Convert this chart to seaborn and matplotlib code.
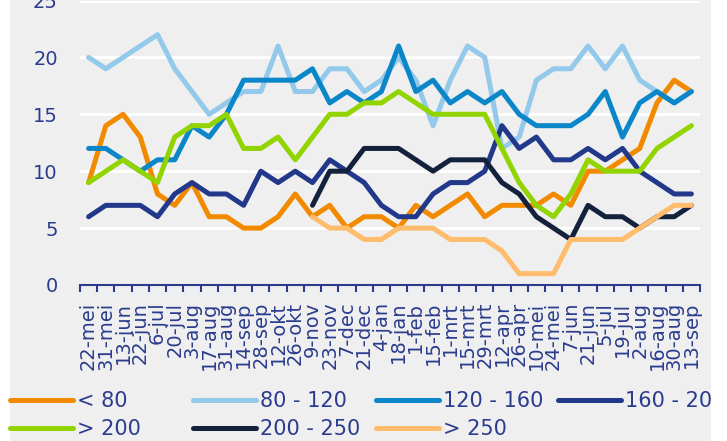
import numpy as np
import pandas as pd
import matplotlib
matplotlib.use("Agg")
import matplotlib.pyplot as plt
from matplotlib.lines import Line2D
from matplotlib.patches import Rectangle
import seaborn as sns

# periods (Dutch date labels)
labels = ["22-mei", "31-mei", "13-jun", "22-jun", "6-jul", "20-jul", "3-aug", "17-aug",
          "31-aug", "14-sep", "28-sep", "12-okt", "26-okt", "9-nov", "23-nov", "7-dec",
          "21-dec", "4-jan", "18-jan", "1-feb", "15-feb", "1-mrt", "15-mrt", "29-mrt",
          "12-apr", "26-apr", "10-mei", "24-mei", "7-jun", "21-jun", "5-jul", "19-jul",
          "2-aug", "16-aug", "30-aug", "13-sep"]

nan = np.nan
lt80 = [9, 14, 15, 13, 8, 7, 9, 6, 6, 5, 5, 6, 8, 6, 7, 5, 6, 6, 5, 7,
        6, 7, 8, 6, 7, 7, 7, 8, 7, 10, 10, 11, 12, 16, 18, 17]
r80_120 = [20, 19, 20, 21, 22, 19, 17, 15, 16, 17, 17, 21, 17, 17, 19, 19, 17, 18, 20, 18,
           14, 18, 21, 20, 12, 13, 18, 19, 19, 21, 19, 21, 18, 17, 16, 17]
r120_160 = [12, 12, 11, 10, 11, 11, 14, 13, 15, 18, 18, 18, 18, 19, 16, 17, 16, 17, 21, 17,
            18, 16, 17, 16, 17, 15, 14, 14, 14, 15, 17, 13, 16, 17, 16, 17]
r160_200 = [6, 7, 7, 7, 6, 8, 9, 8, 8, 7, 10, 9, 10, 9, 11, 10, 9, 7, 6, 6,
            8, 9, 9, 10, 14, 12, 13, 11, 11, 12, 11, 12, 10, 9, 8, 8]
gt200 = [9, 10, 11, 10, 9, 13, 14, 14, 15, 12, 12, 13, 11, 13, 15, 15, 16, 16, 17, 16,
         15, 15, 15, 15, 12, 9, 7, 6, 8, 11, 10, 10, 10, 12, 13, 14]
r200_250 = [nan] * 13 + [7, 10, 10, 12, 12, 12, 11, 10, 11, 11, 11, 9, 8, 6, 5, 4,
                         7, 6, 6, 5, 6, 6, 7]
gt250 = [nan] * 13 + [6, 5, 5, 4, 4, 5, 5, 5, 4, 4, 4, 3, 1, 1, 1, 4,
                      4, 4, 4, 5, 6, 7, 7]

series_names = ["< 80", "80 - 120", "120 - 160", "160 - 200", "> 200", "200 - 250", "> 250"]
colors = ["#f28a00", "#93c9ea", "#0a86c9", "#22388a", "#92d400", "#14213d", "#ffbc6c"]

df = pd.DataFrame(dict(zip(series_names,
                           [lt80, r80_120, r120_160, r160_200, gt200, r200_250, gt250])))

W, H = 727, 441
tc = "#2b3c8e"
bg = "#efefef"

fig = plt.figure(figsize=(W / 100, H / 100), dpi=100)
fig.patch.set_facecolor("white")
fig.add_artist(Rectangle((10 / W, 0), 701 / W, 1, transform=fig.transFigure,
                         facecolor=bg, edgecolor="none", zorder=-10))

ax = fig.add_axes([80 / W, 156 / H, 620 / W, 284.5 / H])
ax.set_facecolor(bg)

sns.lineplot(data=df, palette=colors, dashes=False, linewidth=3.6, legend=False,
             solid_capstyle="round", ax=ax)

ax.set_xlim(-0.5, 35.5)
ax.set_ylim(0, 25)
ax.set_xticks(range(len(labels)))
ax.set_xticklabels(labels, rotation=90, fontsize=14, color=tc)
ax.set_xticks(np.arange(-0.5, len(labels), 1), minor=True)
ax.tick_params(axis="x", which="major", length=0, pad=12)
ax.tick_params(axis="x", which="minor", length=5, width=1.5, color=tc)
ax.set_yticks(range(0, 26, 5))
ax.set_yticklabels([str(v) for v in range(0, 26, 5)], fontsize=14, color=tc)
ax.tick_params(axis="y", length=0, pad=16)
ax.set_xlabel("")
ax.set_ylabel("")

ax.yaxis.grid(True, color="white", linewidth=2)
ax.set_axisbelow(True)
for s in ["top", "right", "left"]:
    ax.spines[s].set_visible(False)
ax.spines["bottom"].set_color(tc)
ax.spines["bottom"].set_linewidth(1.5)

# legend: 4 columns, row-major order
handles = [Line2D([], [], color=c, lw=3.6, solid_capstyle="round") for c in colors]
col_x = [10, 193, 376, 558]
for ci, x in enumerate(col_x):
    idx = [i for i in (ci, ci + 4) if i < len(series_names)]
    fig.legend([handles[i] for i in idx], [series_names[i] for i in idx],
               loc="upper left", bbox_to_anchor=(x / W, (H - 391) / H),
               frameon=False, fontsize=15, handlelength=3.0, handletextpad=0.2,
               borderpad=0, borderaxespad=0, labelspacing=0.38, labelcolor=tc)

# right edge of the panel cuts off the last legend entry
fig.add_artist(Rectangle((711 / W, 0), 16 / W, 1, transform=fig.transFigure,
                         facecolor="white", edgecolor="none", zorder=20))

fig.savefig("out.png", dpi=100, facecolor=fig.get_facecolor())
